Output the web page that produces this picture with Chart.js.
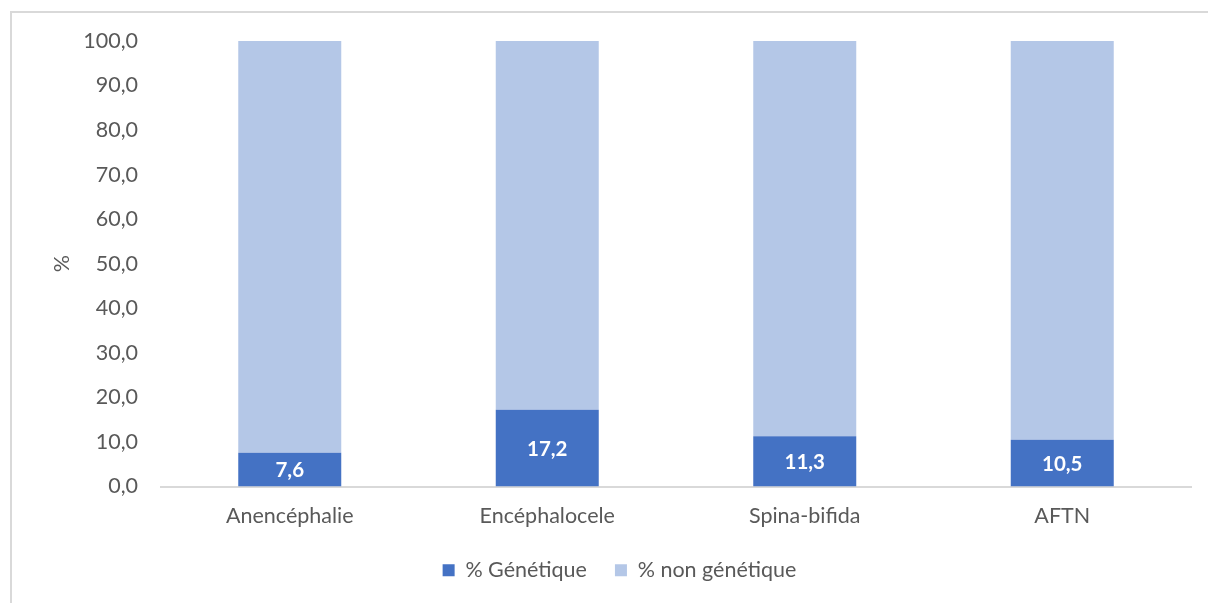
<!DOCTYPE html>
<html>
<head>
<meta charset="utf-8">
<script src="https://cdn.jsdelivr.net/npm/chart.js@4"></script>
<style>
html,body{margin:0;padding:0;background:#fff;}
#wrap{position:relative;width:1208px;height:603px;}
#frame{position:absolute;left:10px;top:11px;width:1198px;height:592px;border-left:2px solid #d9d9d9;border-top:2px solid #d9d9d9;box-sizing:border-box;}
canvas{position:absolute;left:0;top:0;}
</style>
</head>
<body>
<div id="wrap"><div id="frame"></div><canvas id="c" width="1208" height="603"></canvas></div>
<script>
const categories = ["Anencéphalie", "Encéphalocele", "Spina-bifida", "AFTN"];
const geneticValues = [7.6, 17.2, 11.3, 10.5];
const nonGeneticValues = [92.4, 82.8, 88.7, 89.5];
const seriesNames = ["% Génétique", "% non génétique"];
const yTicks = [0, 10, 20, 30, 40, 50, 60, 70, 80, 90, 100];

const FONT = "Lato, 'Open Sans', sans-serif";
const TXT = "#595959";
const FS = 21.5;
const fmt = v => v.toFixed(1).replace('.', ',');

const labelPlugin = {
  id: 'barLabels',
  afterDatasetsDraw(chart) {
    const ctx = chart.ctx;
    const meta = chart.getDatasetMeta(0);
    ctx.save();
    ctx.fillStyle = '#ffffff';
    ctx.font = "bold 20.5px " + FONT;
    ctx.textAlign = 'center';
    ctx.textBaseline = 'middle';
    meta.data.forEach((bar, i) => {
      const p = bar.getProps(['x', 'y', 'base'], true);
      ctx.fillText(fmt(geneticValues[i]), p.x, (p.y + p.base) / 2 + 1);
    });
    ctx.restore();
  }
};

new Chart(document.getElementById('c'), {
  type: 'bar',
  data: {
    labels: categories,
    datasets: [
      { label: seriesNames[0], data: geneticValues, backgroundColor: '#4472C4', borderWidth: 0 },
      { label: seriesNames[1], data: nonGeneticValues, backgroundColor: '#B4C7E7', borderWidth: 0 }
    ]
  },
  options: {
    responsive: false,
    animation: false,
    devicePixelRatio: 1,
    layout: { padding: { top: 41, right: 17, bottom: 12, left: 48 } },
    datasets: { bar: { categoryPercentage: 1.0, barPercentage: 0.4 } },
    plugins: {
      legend: {
        position: 'bottom',
        labels: {
          color: TXT,
          font: { family: FONT, size: FS },
          boxWidth: 12, boxHeight: 12, padding: 28
        }
      },
      tooltip: { enabled: false }
    },
    scales: {
      x: {
        stacked: true,
        afterFit(s) { s.height = 45; },
        grid: { display: false, drawTicks: false },
        border: { display: true, color: '#d9d9d9', width: 2 },
        ticks: { color: TXT, font: { family: FONT, size: FS }, padding: 17, maxRotation: 0 }
      },
      y: {
        stacked: true,
        min: 0, max: 100,
        afterFit(s) { s.width = 113; },
        afterBuildTicks(s) { s.ticks = yTicks.map(v => ({ value: v })); },
        grid: { display: false, drawTicks: false },
        border: { display: false },
        ticks: { color: TXT, font: { family: FONT, size: FS }, padding: 23, callback: v => fmt(v) },
        title: { display: true, text: '%', color: TXT, font: { family: FONT, size: FS }, padding: { top: 1, bottom: 0 } }
      }
    }
  },
  plugins: [labelPlugin]
});
</script>
</body>
</html>
